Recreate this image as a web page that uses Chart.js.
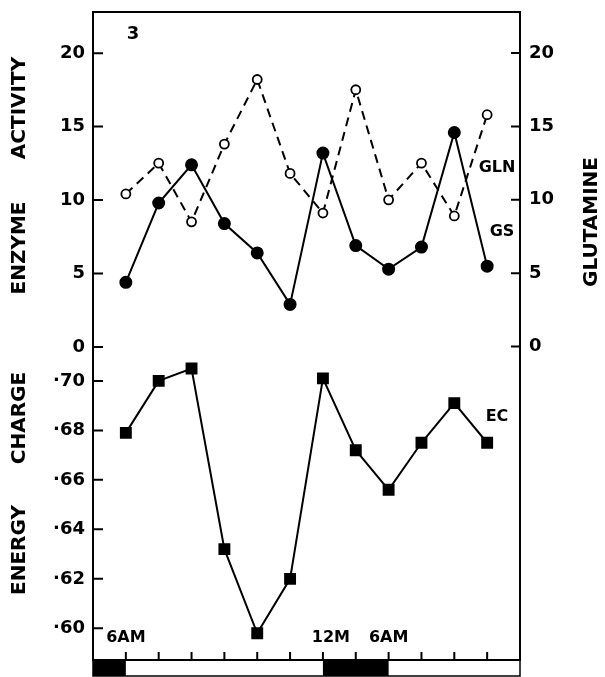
<!DOCTYPE html>
<html>
<head>
<meta charset="utf-8">
<script src="https://cdn.jsdelivr.net/npm/chart.js@4.4.1/dist/chart.umd.min.js"></script>
<style>
  body { margin: 0; background: #fff; }
  canvas { display: block; }
</style>
</head>
<body>
<canvas id="chart" width="605" height="677"></canvas>
<script>
// sampling times, hours from midnight of day 1 (every 3 h)
var sampleHours = [6, 9, 12, 15, 18, 21, 24, 27, 30, 33, 36, 39];
// glutamine synthetase activity (filled circles)
var gsValues = [4.4, 9.8, 12.4, 8.4, 6.4, 2.9, 13.2, 6.9, 5.3, 6.8, 14.6, 5.5];
// glutamine (open circles, dashed)
var glnValues = [10.4, 12.5, 8.5, 13.8, 18.2, 11.8, 9.1, 17.5, 10.0, 12.5, 8.9, 15.8];
// energy charge (squares)
var ecValues = [0.679, 0.700, 0.705, 0.632, 0.598, 0.620, 0.701, 0.672, 0.656, 0.675, 0.691, 0.675];

var activityTicks = [0, 5, 10, 15, 20];
var ecTicks = [0.60, 0.62, 0.64, 0.66, 0.68, 0.70];
var timeLabels = ['6AM', '12M', '6AM'];
var timeLabelHours = [6, 24, 30];
var darkPeriods = [[3, 6], [24, 30]];

var FONT = 'DejaVu Sans';

function pts(vals) {
	return vals.map(function(v, i) { return {x: sampleHours[i], y: v}; });
}

function setTicks(list) {
	return function(scale) {
		scale.ticks = list.map(function(v) { return {value: v}; });
	};
}

function fitWidth(w) {
	return function(sc) {
		sc.width = w;
		sc.paddingTop = 0;
		sc.paddingBottom = 0;
	};
}

var decorations = {
	id: 'decorations',
	afterDraw: function(chart) {
		var ctx = chart.ctx;
		var a = chart.chartArea;
		var x = chart.scales.x;
		var s = chart.scales;
		ctx.save();
		ctx.strokeStyle = '#000';
		ctx.fillStyle = '#000';

		// light / dark bar under the axis
		ctx.lineWidth = 1.5;
		ctx.strokeRect(a.left, a.bottom, a.right - a.left, 16);
		darkPeriods.forEach(function(p) {
			var x0 = x.getPixelForValue(p[0]);
			var x1 = x.getPixelForValue(p[1]);
			ctx.fillRect(x0, a.bottom, x1 - x0, 16);
		});

		// frame
		ctx.lineWidth = 2;
		ctx.strokeRect(a.left, a.top, a.right - a.left, a.bottom - a.top);

		// inward tick marks
		ctx.beginPath();
		s.yGS.ticks.forEach(function(t) {
			var y = s.yGS.getPixelForValue(t.value);
			ctx.moveTo(a.left, y); ctx.lineTo(a.left + 10, y);
		});
		s.yEC.ticks.forEach(function(t) {
			var y = s.yEC.getPixelForValue(t.value);
			ctx.moveTo(a.left, y); ctx.lineTo(a.left + 10, y);
		});
		s.yGLN.ticks.forEach(function(t) {
			var y = s.yGLN.getPixelForValue(t.value);
			ctx.moveTo(a.right, y); ctx.lineTo(a.right - 9, y);
		});
		sampleHours.forEach(function(h) {
			var px = x.getPixelForValue(h);
			ctx.moveTo(px, a.bottom); ctx.lineTo(px, a.bottom - 8);
		});
		ctx.stroke();

		// time labels above the axis
		ctx.font = 'bold 16px ' + FONT;
		ctx.textAlign = 'center';
		ctx.textBaseline = 'middle';
		timeLabels.forEach(function(t, i) {
			var px = x.getPixelForValue(timeLabelHours[i]);
			if (t == '12M') px += 8;
			ctx.fillText(t, px, a.bottom - 22);
		});

		// panel number and series names
		ctx.font = 'bold 18px ' + FONT;
		ctx.fillText('3', 133, 34);
		ctx.font = 'bold 16px ' + FONT;
		ctx.fillText('GLN', 497, 168);
		ctx.fillText('GS', 502, 232);
		ctx.fillText('EC', 497, 417);

		// axis titles
		ctx.font = 'bold 20px ' + FONT;
		function vtext(t, cx, cy) {
			ctx.save();
			ctx.translate(cx, cy);
			ctx.rotate(-Math.PI / 2);
			ctx.fillText(t, 0, 0);
			ctx.restore();
		}
		vtext('ACTIVITY', 20, 108);
		vtext('ENZYME', 20, 248);
		vtext('CHARGE', 20, 418);
		vtext('ENERGY', 20, 550);
		vtext('GLUTAMINE', 592, 222);
		ctx.restore();
	}
};

var tickFont = {family: FONT, size: 18, weight: 'bold'};

var ctx = document.getElementById('chart').getContext('2d');
var chart = new Chart(ctx, {
	type: 'line',
	data: {
		datasets: [{
			label: 'GLN',
			data: pts(glnValues),
			yAxisID: 'yGLN',
			borderColor: '#000',
			borderWidth: 2,
			borderDash: [9, 6],
			pointStyle: 'circle',
			pointRadius: 4.5,
			pointBackgroundColor: '#fff',
			pointBorderColor: '#000',
			pointBorderWidth: 1.8,
			tension: 0
		}, {
			label: 'GS',
			data: pts(gsValues),
			yAxisID: 'yGS',
			borderColor: '#000',
			borderWidth: 2,
			pointStyle: 'circle',
			pointRadius: 5.5,
			pointBackgroundColor: '#000',
			pointBorderColor: '#000',
			tension: 0
		}, {
			label: 'EC',
			data: pts(ecValues),
			yAxisID: 'yEC',
			borderColor: '#000',
			borderWidth: 2,
			pointStyle: 'rect',
			pointRadius: 7,
			pointBackgroundColor: '#000',
			pointBorderColor: '#000',
			tension: 0
		}]
	},
	options: {
		responsive: false,
		animation: false,
		layout: {padding: {top: 12, bottom: 17, left: 0, right: 0}},
		plugins: {legend: {display: false}, tooltip: {enabled: false}},
		scales: {
			x: {type: 'linear', min: 3, max: 42, display: false},
			yGS: {
				type: 'linear', position: 'left', stack: 'left', stackWeight: 335, weight: 2,
				min: 0, max: 22.8,
				afterBuildTicks: setTicks(activityTicks),
				afterFit: fitWidth(93),
				grid: {display: false, drawTicks: false},
				border: {display: false},
				ticks: {color: '#000', font: tickFont, padding: 8,
					callback: function(v) { return String(v); }}
			},
			yEC: {
				type: 'linear', position: 'left', stack: 'left', stackWeight: 313, weight: 1,
				min: 0.5872, max: 0.7137,
				afterBuildTicks: setTicks(ecTicks),
				afterFit: fitWidth(93),
				grid: {display: false, drawTicks: false},
				border: {display: false},
				ticks: {color: '#000', font: tickFont, padding: 8,
					callback: function(v) { return '\u00b7' + Math.round(v * 100); }}
			},
			yGLN: {
				type: 'linear', position: 'right',
				min: -21.36, max: 22.8,
				afterBuildTicks: setTicks(activityTicks),
				afterFit: fitWidth(85),
				grid: {display: false, drawTicks: false},
				border: {display: false},
				ticks: {color: '#000', font: tickFont, padding: 9,
					callback: function(v) { return String(v); }}
			}
		}
	},
	plugins: [decorations]
});
</script>
</body>
</html>
